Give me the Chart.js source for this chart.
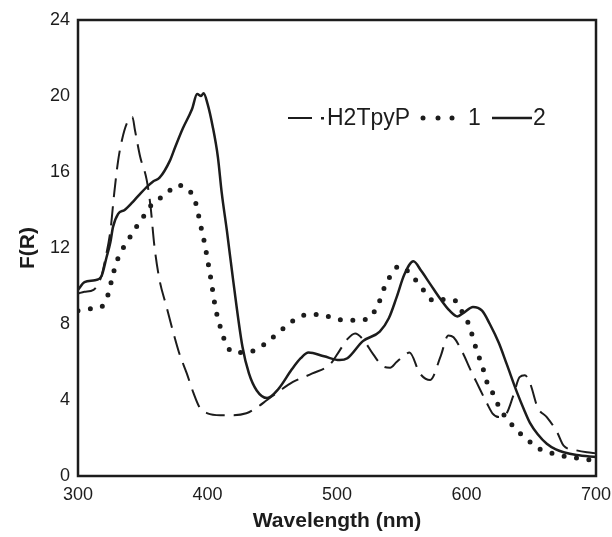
<!DOCTYPE html>
<html>
<head>
<meta charset="utf-8">
<script src="https://cdn.jsdelivr.net/npm/chart.js@4/dist/chart.umd.min.js"></script>
<style>
  html, body { margin: 0; padding: 0; background: #fff; }
  #wrap { width: 612px; height: 537px; }
</style>
</head>
<body>
<div id="wrap"><canvas id="c" width="612" height="537"></canvas></div>
<script>
// ---- data ----
const seriesNames = ['H2TpyP', '1', '2'];
const xTicks = [300, 400, 500, 600, 700];
const yTicks = [0, 4, 8, 12, 16, 20, 24];

const h2tpypX = [300,305,312,318,321,325,328,331,334,338,342,344,348,353,356,359,363,368,373,378,384,389,394,400,410,420,430,438,446,456,466,481,495,502,508,514,520,528,535,541,546,551,556,564,572,580,586,590,597,603,608,616,620,625,631,636,641,645,649,655,662,670,675,685,693,700];
const h2tpypY = [9.6,9.7,9.8,10.5,11.4,12.9,14.9,16.6,17.7,18.6,18.9,18.2,16.8,15.6,14.2,12.1,10.3,9.0,7.7,6.5,5.4,4.4,3.6,3.3,3.2,3.2,3.3,3.6,4.0,4.5,4.95,5.4,5.9,6.6,7.2,7.5,7.2,6.4,5.8,5.7,6.0,6.3,6.5,5.4,5.05,6.3,7.4,7.3,6.5,5.6,4.9,3.8,3.3,3.1,3.3,4.2,5.2,5.3,4.9,3.6,3.1,2.3,1.6,1.35,1.25,1.2];

const s1X = [300,310,318,323,327,330,334,338,342,346,352,357,363,369,376,383,389,392,394,397,400,403,406,408,411,414,420,430,439,447,454,461,469,478,488,497,506,515,525,530,534,537,542,548,556,562,569,575,583,592,597,601,604,607,610,613,616,620,624,629,635,642,649,657,666,675,685,695,700];
const s1Y = [8.7,8.8,8.9,9.5,10.6,11.3,11.9,12.3,12.8,13.2,13.8,14.3,14.6,14.9,15.3,15.2,14.7,14.1,13.4,12.5,11.4,10.2,8.9,8.3,7.6,7.0,6.5,6.5,6.7,7.1,7.5,7.9,8.3,8.5,8.5,8.3,8.2,8.2,8.3,8.8,9.4,10.0,10.6,11.05,10.7,10.2,9.6,9.2,9.3,9.2,8.6,8.1,7.5,6.8,6.2,5.6,4.9,4.4,3.8,3.2,2.7,2.2,1.8,1.4,1.2,1.05,0.95,0.85,0.8];

const s2X = [300,305,313,318,322,325,327,331,336,342,346,353,358,363,371,375,381,388,392,395,397,400,404,408,411,415,420,427,432,438,446,455,465,472,478,490,502,508,520,533,540,546,552,559,565,572,580,587,593,598,605,612,618,625,631,639,645,649,655,662,669,675,685,700];
const s2Y = [9.8,10.2,10.3,10.5,11.5,12.3,13.1,13.8,14.0,14.4,14.7,15.2,15.5,15.7,16.6,17.3,18.3,19.3,20.1,20.0,20.15,19.6,18.4,16.8,14.9,12.9,10.2,6.8,5.4,4.5,4.1,4.6,5.6,6.2,6.5,6.3,6.1,6.2,7.1,7.6,8.3,9.4,10.6,11.3,10.8,10.1,9.3,8.7,8.4,8.6,8.9,8.7,8.0,7.0,5.9,4.4,3.4,2.8,2.2,1.7,1.4,1.25,1.1,1.0];

const xTitle = 'Wavelength (nm)';
const yTitle = 'F(R)';

// ---- build chart ----
const INK = '#1c1c1c';
const pts = (xs, ys) => xs.map((x, i) => ({ x: x, y: ys[i] }));
const FONT = '"Liberation Sans", Arial, sans-serif';

const frame = {
  id: 'frame',
  afterDraw(chart) {
    const { ctx, chartArea: a } = chart;
    ctx.save();
    ctx.strokeStyle = INK;
    ctx.lineWidth = 2.5;
    ctx.strokeRect(a.left, a.top, a.right - a.left, a.bottom - a.top);
    ctx.restore();
  }
};

const legendInline = {
  id: 'legendInline',
  afterDraw(chart) {
    const ctx = chart.ctx;
    const y = 118;
    ctx.save();
    ctx.fillStyle = INK;
    ctx.strokeStyle = INK;
    ctx.font = '23px ' + FONT;
    ctx.textBaseline = 'middle';
    ctx.textAlign = 'left';
    // dashed sample
    ctx.lineWidth = 2;
    ctx.beginPath(); ctx.moveTo(288, y); ctx.lineTo(312, y); ctx.stroke();
    ctx.fillRect(321, y - 1, 3, 2.5);
    ctx.fillText(seriesNames[0], 327, y + 1);
    // dotted sample
    [423, 438, 452].forEach(cx => { ctx.beginPath(); ctx.arc(cx, y, 2.5, 0, Math.PI * 2); ctx.fill(); });
    ctx.fillText(seriesNames[1], 468, y + 1);
    // solid sample
    ctx.lineWidth = 2.5;
    ctx.beginPath(); ctx.moveTo(492, y); ctx.lineTo(532, y); ctx.stroke();
    ctx.fillText(seriesNames[2], 533, y + 1);
    ctx.restore();
  }
};

new Chart(document.getElementById('c'), {
  type: 'line',
  data: {
    datasets: [
      { label: seriesNames[0], data: pts(h2tpypX, h2tpypY), borderColor: INK, borderWidth: 2,
        borderDash: [19, 9], pointRadius: 0, cubicInterpolationMode: 'monotone', fill: false },
      { label: seriesNames[1], data: pts(s1X, s1Y), borderColor: INK, borderWidth: 5,
        borderDash: [0, 12.5], borderCapStyle: 'round', pointRadius: 0, cubicInterpolationMode: 'monotone', fill: false },
      { label: seriesNames[2], data: pts(s2X, s2Y), borderColor: INK, borderWidth: 2.5,
        pointRadius: 0, cubicInterpolationMode: 'monotone', fill: false }
    ]
  },
  options: {
    responsive: false,
    animation: false,
    devicePixelRatio: 1,
    layout: { padding: { left: 0, right: 16, top: 20, bottom: 0 } },
    plugins: { legend: { display: false }, tooltip: { enabled: false } },
    scales: {
      x: {
        type: 'linear', min: 300, max: 700,
        afterBuildTicks: s => { s.ticks = xTicks.map(v => ({ value: v })); },
        afterFit: s => { s.height = 61; s.paddingRight = 0; s.paddingLeft = 0; },
        grid: { display: false, drawTicks: false },
        border: { display: false },
        ticks: { color: INK, font: { family: FONT, size: 18 }, padding: 8, maxRotation: 0 },
        title: { display: true, text: xTitle, color: INK, font: { family: FONT, size: 21, weight: 'bold' },
                 padding: { top: 0, bottom: 3 } }
      },
      y: {
        type: 'linear', min: 0, max: 24,
        afterBuildTicks: s => { s.ticks = yTicks.map(v => ({ value: v })); },
        afterFit: s => { s.width = 78; s.paddingTop = 0; s.paddingBottom = 0; },
        grid: { display: false, drawTicks: false },
        border: { display: false },
        ticks: { color: INK, font: { family: FONT, size: 18 }, padding: 8 },
        title: { display: true, text: yTitle, color: INK, font: { family: FONT, size: 21, weight: 'bold' },
                 padding: { top: 16, bottom: 0 } }
      }
    }
  },
  plugins: [frame, legendInline]
});
</script>
</body>
</html>
